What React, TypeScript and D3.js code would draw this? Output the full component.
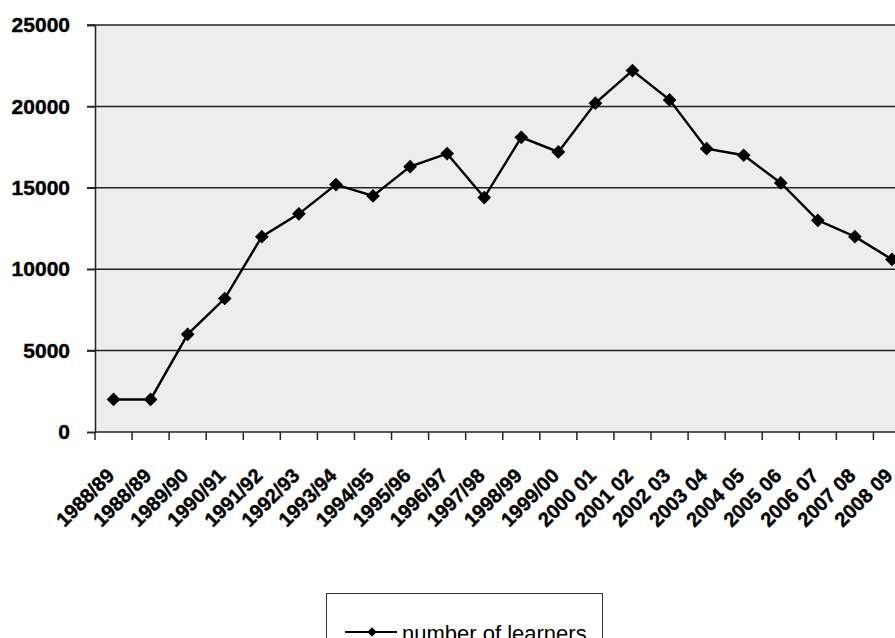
import { useEffect, useRef } from "react";
import * as d3 from "d3";

// school years on the x axis (the first label really is repeated in the source chart)
const years = [
  "1988/89", "1988/89", "1989/90", "1990/91", "1991/92", "1992/93",
  "1993/94", "1994/95", "1995/96", "1996/97", "1997/98", "1998/99",
  "1999/00", "2000 01", "2001 02", "2002 03", "2003 04", "2004 05",
  "2005 06", "2006 07", "2007 08", "2008 09",
];
const learners = [
  2000, 2000, 6000, 8200, 12000, 13400, 15200, 14500, 16300, 17100, 14400,
  18100, 17200, 20200, 22200, 20400, 17400, 17000, 15300, 13000, 12000, 10600,
];
const yTicks = [0, 5000, 10000, 15000, 20000, 25000];
const seriesName = "number of learners";

const W = 895;
const H = 638;

const App = () => {
  const svgRef = useRef<SVGSVGElement | null>(null);

  useEffect(() => {
    const svg = d3.select(svgRef.current);
    svg.selectAll("*").remove();

    const left = 95;
    const top = 25;
    const bottom = 432;
    const plotW = 815.5; // runs past the right edge, as in the original picture

    const x = d3.scaleBand().domain(d3.range(years.length).map(String)).range([left, left + plotW]);
    const y = d3.scaleLinear().domain([0, 25000]).range([bottom, top]);
    const cx = (i: number) => x(String(i))! + x.bandwidth() / 2;

    // grey plot area
    svg
      .append("rect")
      .attr("x", left)
      .attr("y", top)
      .attr("width", plotW)
      .attr("height", bottom - top)
      .attr("fill", "#ededed");

    // horizontal gridlines
    svg
      .append("g")
      .selectAll("line")
      .data(yTicks.filter((d) => d > 0))
      .join("line")
      .attr("x1", left - 8)
      .attr("x2", left + plotW)
      .attr("y1", (d) => y(d))
      .attr("y2", (d) => y(d))
      .attr("stroke", "#222")
      .attr("stroke-width", 1.5);

    // y axis
    const yAxis = svg.append("g").attr("transform", `translate(${left},0)`).call(
      d3.axisLeft(y).tickValues(yTicks).tickSize(8).tickPadding(17).tickFormat((d) => String(d))
    );
    yAxis.select(".domain").attr("stroke", "#222").attr("stroke-width", 1.5);
    yAxis.selectAll(".tick line").attr("stroke", "#222").attr("stroke-width", 1.5);
    yAxis
      .selectAll(".tick text")
      .attr("font-family", "Liberation Sans, Arial, sans-serif")
      .attr("font-weight", "bold")
      .attr("font-size", 21)
      .attr("fill", "#000")
      .attr("stroke", "#000")
      .attr("stroke-width", 0.4);

    // x axis: ticks on band edges
    const edges = d3.range(years.length + 1).map((i) => left + i * x.bandwidth());
    svg
      .append("line")
      .attr("x1", left)
      .attr("x2", left + plotW)
      .attr("y1", bottom)
      .attr("y2", bottom)
      .attr("stroke", "#222")
      .attr("stroke-width", 1.5);
    svg
      .append("g")
      .selectAll("line")
      .data(edges)
      .join("line")
      .attr("x1", (d) => d)
      .attr("x2", (d) => d)
      .attr("y1", bottom)
      .attr("y2", bottom + 8)
      .attr("stroke", "#222")
      .attr("stroke-width", 1.5);

    svg
      .append("g")
      .selectAll("text")
      .data(years)
      .join("text")
      .attr("transform", (d, i) => `translate(${cx(i) + 2},${bottom + 45}) rotate(-45)`)
      .attr("text-anchor", "end")
      .attr("font-family", "Liberation Sans, Arial, sans-serif")
      .attr("font-weight", "bold")
      .attr("font-size", 20)
      .attr("stroke", "#000")
      .attr("stroke-width", 0.4)
      .text((d) => d);

    // the series
    const line = d3
      .line<number>()
      .x((d, i) => cx(i))
      .y((d) => y(d));

    svg
      .append("path")
      .datum(learners)
      .attr("d", line)
      .attr("fill", "none")
      .attr("stroke", "#000")
      .attr("stroke-width", 2.4);

    const diamond = d3.symbol().type(d3.symbolDiamond2).size(120);
    svg
      .append("g")
      .selectAll("path")
      .data(learners)
      .join("path")
      .attr("d", diamond)
      .attr("transform", (d, i) => `translate(${cx(i)},${y(d)})`)
      .attr("fill", "#000");

    // legend box, cut off at the bottom like the source
    const lg = svg.append("g");
    lg.append("rect")
      .attr("x", 326.5)
      .attr("y", 593.5)
      .attr("width", 276)
      .attr("height", 80)
      .attr("fill", "#fff")
      .attr("stroke", "#333")
      .attr("stroke-width", 1);
    lg.append("line")
      .attr("x1", 345)
      .attr("x2", 397)
      .attr("y1", 632)
      .attr("y2", 632)
      .attr("stroke", "#000")
      .attr("stroke-width", 2);
    lg.append("path")
      .attr("d", d3.symbol().type(d3.symbolDiamond2).size(55))
      .attr("transform", "translate(372,632)")
      .attr("fill", "#000");
    lg.append("text")
      .attr("x", 402)
      .attr("y", 641)
      .attr("font-family", "Liberation Sans, Arial, sans-serif")
      .attr("font-size", 22)
      .text(seriesName);
  }, []);

  return (
    <svg
      ref={svgRef}
      width={W}
      height={H}
      style={{ position: "absolute", left: 0, top: 0, background: "#fff" }}
    ></svg>
  );
};

export default App;
